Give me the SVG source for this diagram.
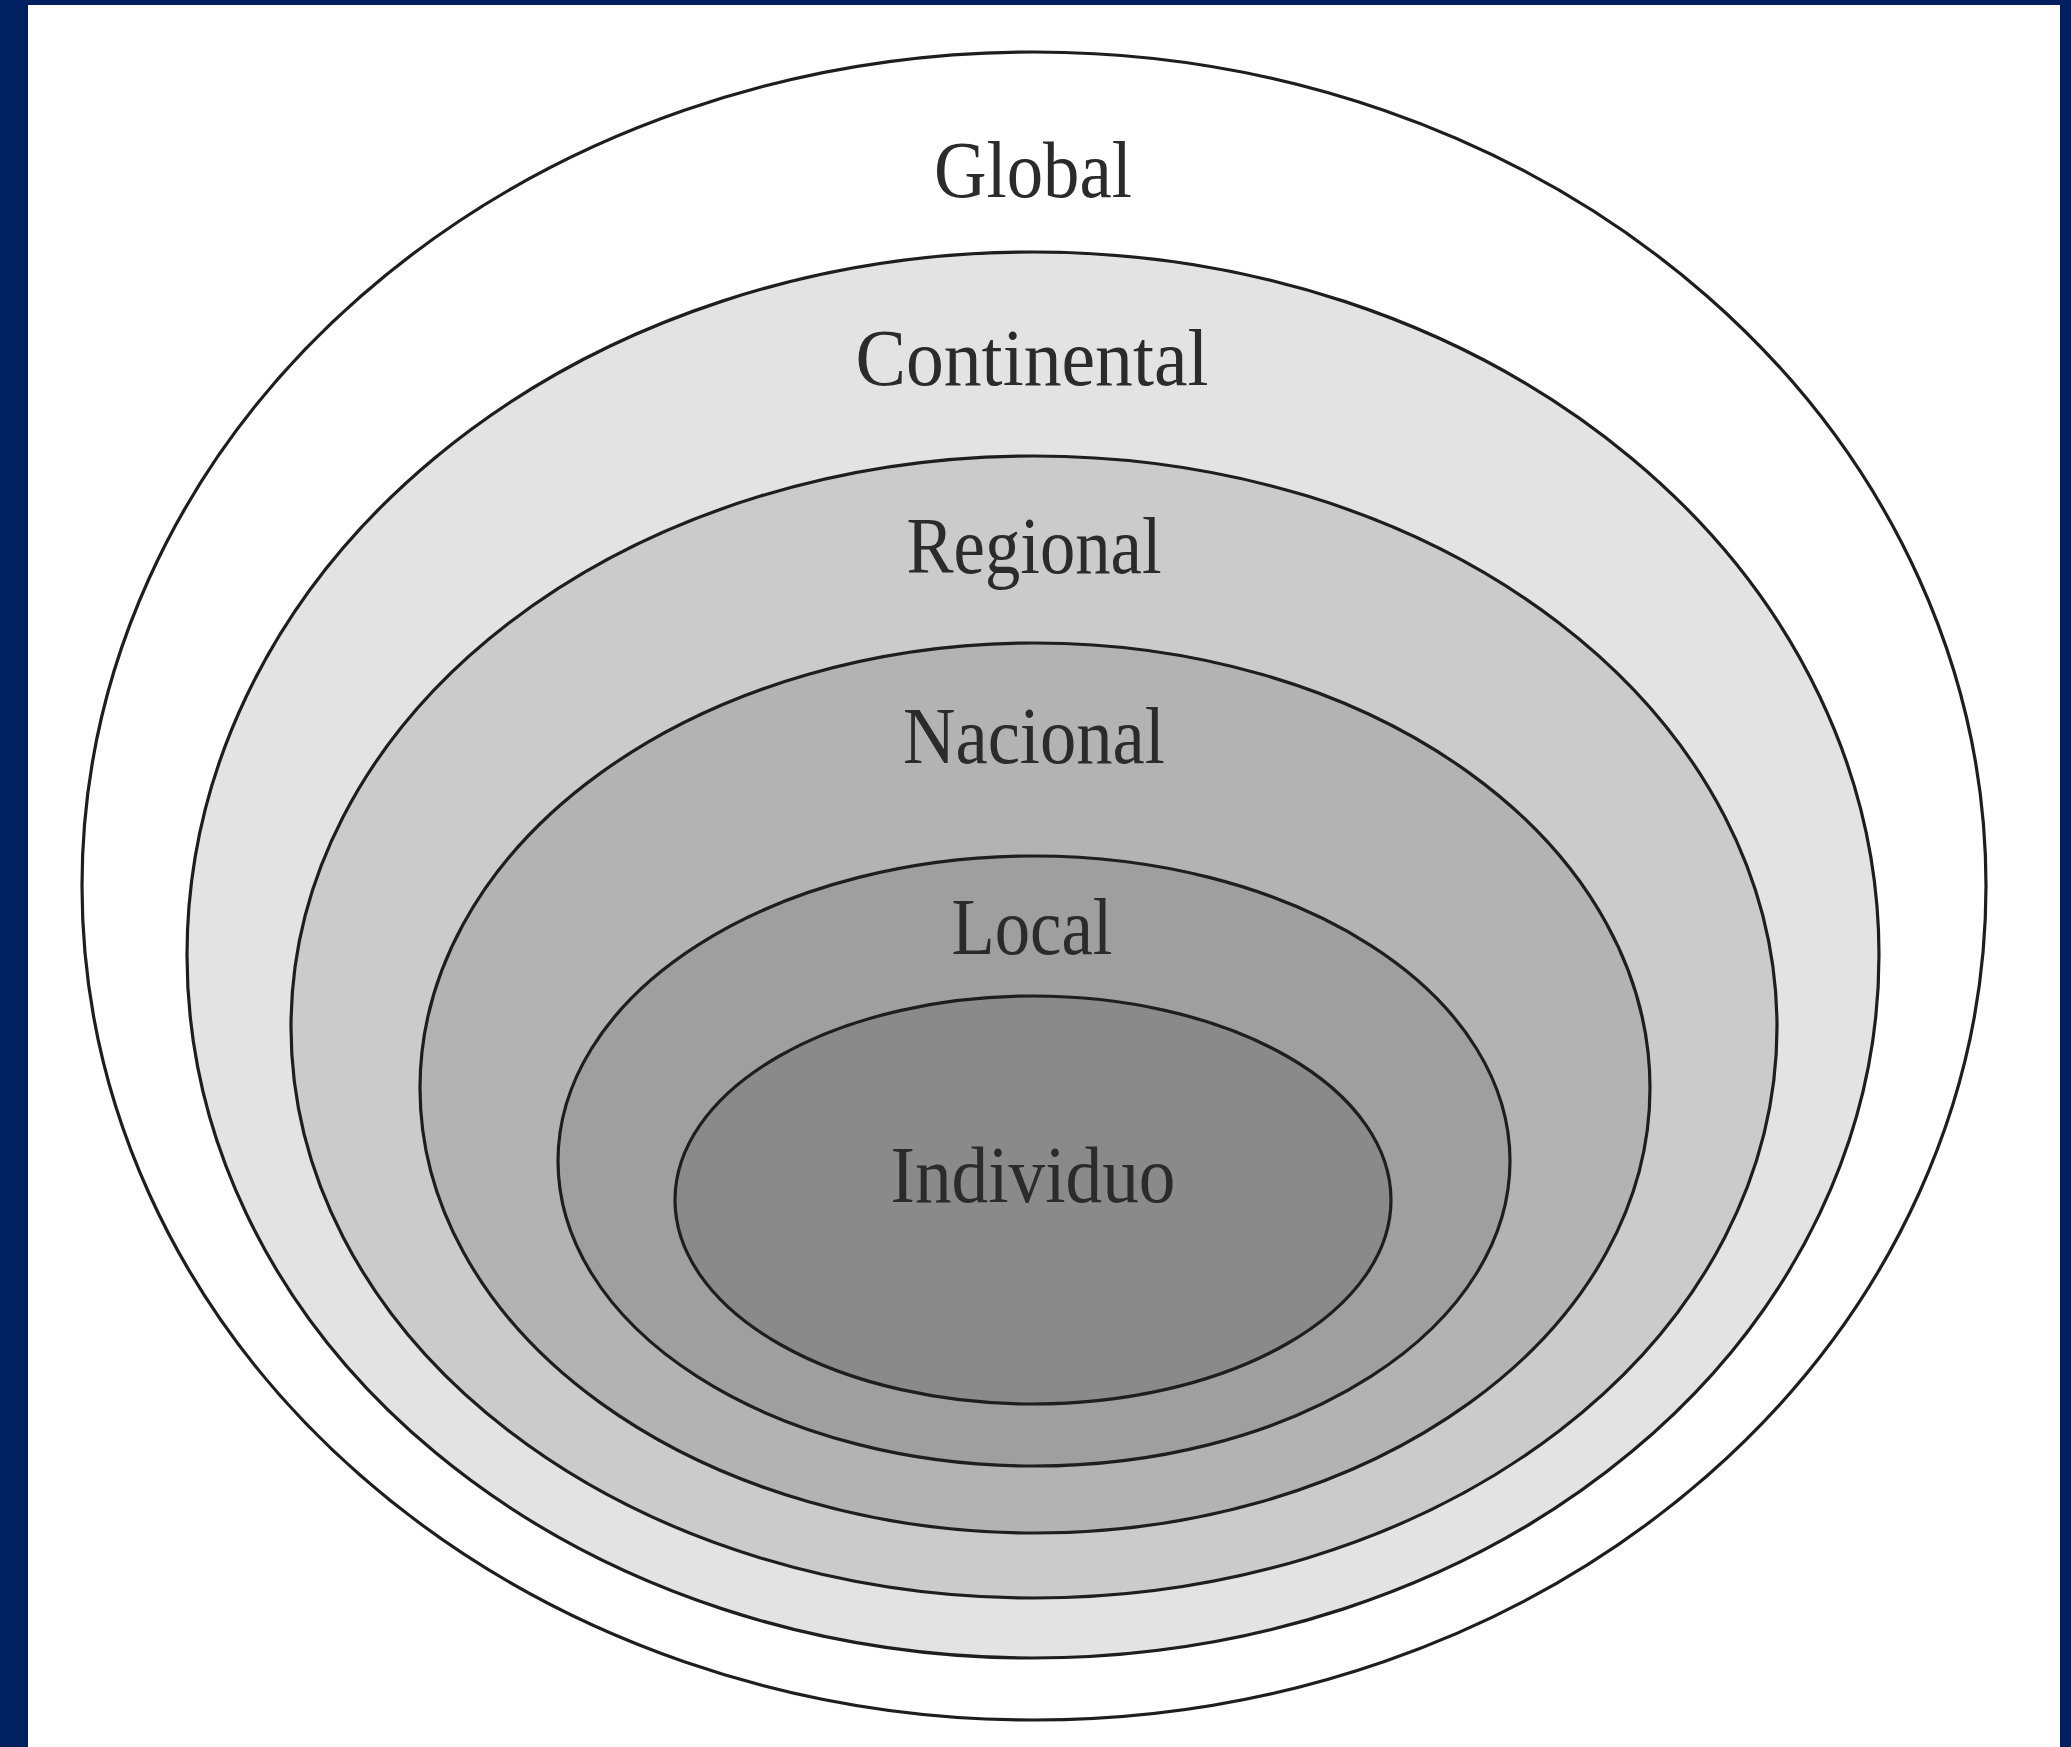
<svg xmlns="http://www.w3.org/2000/svg" width="2071" height="1747" viewBox="0 0 2071 1747">
  <style>
    .ring { stroke: #1e1e1e; stroke-width: 3.2; }
    .lbl { font-family: "Liberation Serif", "DejaVu Serif", serif; font-size: 80px; fill: #2b2b2b; text-anchor: middle; }
  </style>
  <rect x="0" y="0" width="2071" height="1747" fill="#00205f"/>
  <rect x="28" y="5" width="2032" height="1742" fill="#ffffff"/>

  <g id="global">
    <ellipse class="ring" cx="1034" cy="886" rx="952" ry="834" fill="#ffffff"/>
    <text class="lbl" x="1033" y="197" textLength="198" lengthAdjust="spacingAndGlyphs">Global</text>
  </g>
  <g id="continental">
    <ellipse class="ring" cx="1033" cy="955" rx="846" ry="703" fill="#e3e3e3"/>
    <text class="lbl" x="1032" y="385" textLength="353" lengthAdjust="spacingAndGlyphs">Continental</text>
  </g>
  <g id="regional">
    <ellipse class="ring" cx="1034" cy="1027" rx="743" ry="571" fill="#cbcbcb"/>
    <text class="lbl" x="1034" y="573" textLength="255" lengthAdjust="spacingAndGlyphs">Regional</text>
  </g>
  <g id="nacional">
    <ellipse class="ring" cx="1035" cy="1088" rx="615" ry="445" fill="#b3b3b3"/>
    <text class="lbl" x="1034" y="763" textLength="262" lengthAdjust="spacingAndGlyphs">Nacional</text>
  </g>
  <g id="local">
    <ellipse class="ring" cx="1034" cy="1161" rx="476" ry="305" fill="#9f9f9f"/>
    <text class="lbl" x="1032" y="954" textLength="161" lengthAdjust="spacingAndGlyphs">Local</text>
  </g>
  <g id="individuo">
    <ellipse class="ring" cx="1033" cy="1200" rx="358" ry="204" fill="#8a8a8a"/>
    <text class="lbl" x="1033" y="1202" textLength="285" lengthAdjust="spacingAndGlyphs">Individuo</text>
  </g>
  <g id="connectors"/>
</svg>
